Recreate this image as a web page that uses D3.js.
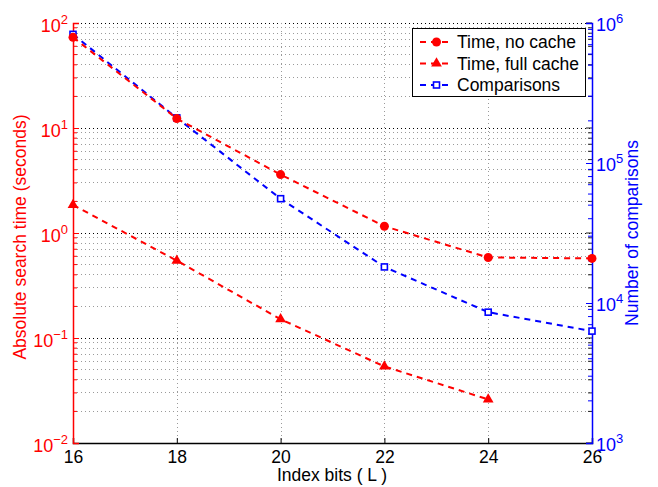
<!DOCTYPE html>
<html><head><meta charset="utf-8">
<script src="https://cdn.jsdelivr.net/npm/d3@7"></script>
<style>
html,body{margin:0;padding:0;background:#fff;}
svg{display:block;font-family:"Liberation Sans",Arial,sans-serif;}
</style></head><body>
<svg id="c" width="658" height="487"></svg>
<script>
const bits = [16, 18, 20, 22, 24, 26];
const timeNoCache = [73, 12.3, 3.6, 1.16, 0.585, 0.573];
const bitsFull = [16, 18, 20, 22, 24];
const timeFullCache = [1.85, 0.545, 0.151, 0.0536, 0.026];
const comparisons = [830000, 210000, 55600, 18100, 8600, 6300];
const xTicks = [16, 18, 20, 22, 24, 26];
const leftTicks = [1e-2, 1e-1, 1e0, 1e1, 1e2];
const rightTicks = [1e3, 1e4, 1e5, 1e6];
const legendLabels = ["Time, no cache", "Time, full cache", "Comparisons"];

const svg = d3.select("#c");
const L = 73, R = 592, T = 23, B = 443;
const FS = 17.5;
const x = d3.scaleLinear().domain([16, 26]).range([L, R]);
const yL = d3.scaleLog().domain([1e-2, 1e2]).range([B, T]);
const yR = d3.scaleLog().domain([1e3, 1e6]).range([B, T]);
const RED = "#ff0000", BLUE = "#0000ff";

function minorTicks(dom) {
  const out = [];
  for (let e = Math.log10(dom[0]); e < Math.log10(dom[1]); e++) {
    for (let m = 2; m <= 9; m++) out.push(m * Math.pow(10, e));
  }
  return out;
}
const lMinor = minorTicks([1e-2, 1e2]);
const rMinor = minorTicks([1e3, 1e6]);

const g = svg.append("g");
g.selectAll(".gm").data(lMinor).enter().append("line")
  .attr("x1", L).attr("x2", R).attr("y1", d => yL(d)).attr("y2", d => yL(d))
  .attr("stroke", "#9a9a9a").attr("stroke-width", 1).attr("stroke-dasharray", "1,3").attr("shape-rendering", "crispEdges");
g.selectAll(".gM").data(leftTicks).enter().append("line")
  .attr("x1", L).attr("x2", R).attr("y1", d => Math.round(yL(d)) + 0.5).attr("y2", d => Math.round(yL(d)) + 0.5)
  .attr("stroke", "#000").attr("stroke-width", 1).attr("stroke-dasharray", "1,3");
g.selectAll(".gv").data(xTicks.slice(1, -1)).enter().append("line")
  .attr("x1", d => Math.round(x(d)) + 0.5).attr("x2", d => Math.round(x(d)) + 0.5).attr("y1", T).attr("y2", B)
  .attr("stroke", "#9a9a9a").attr("stroke-width", 1).attr("stroke-dasharray", "1,3");

// x axis
const xAxis = d3.axisBottom(x).tickValues(xTicks).tickSize(-5).tickPadding(8).tickFormat(d3.format("d"));
const gx = svg.append("g").attr("transform", `translate(0,${B})`).call(xAxis);
gx.select(".domain").attr("stroke", "#000").attr("stroke-width", 1.5);
gx.selectAll(".tick line").attr("stroke", "#000");
gx.selectAll("text").attr("font-size", FS).attr("fill", "#000");

// left axis ticks
const lAxis = d3.axisLeft(yL).tickValues(leftTicks).tickSize(-6).tickFormat("");
const gl = svg.append("g").attr("transform", `translate(${L},0)`).call(lAxis);
gl.select(".domain").attr("stroke", RED).attr("stroke-width", 1.5);
gl.selectAll(".tick line").attr("stroke", RED);
gl.selectAll(".mt").data(lMinor).enter().append("line")
  .attr("x1", 0).attr("x2", 4).attr("y1", d => yL(d)).attr("y2", d => yL(d)).attr("stroke", RED);
svg.append("g").selectAll("line").data(leftTicks.concat(lMinor)).enter().append("line")
  .attr("x1", R).attr("x2", d => R - (leftTicks.includes(d) ? 6 : 4))
  .attr("y1", d => yL(d)).attr("y2", d => yL(d)).attr("stroke", "#222");

// right axis
const rAxis = d3.axisRight(yR).tickValues(rightTicks).tickSize(-6).tickFormat("");
const gr = svg.append("g").attr("transform", `translate(${R},0)`).call(rAxis);
gr.select(".domain").attr("stroke", BLUE).attr("stroke-width", 1.5);
gr.selectAll(".tick line").attr("stroke", BLUE);
gr.selectAll(".mt").data(rMinor).enter().append("line")
  .attr("x1", 0).attr("x2", -4).attr("y1", d => yR(d)).attr("y2", d => yR(d)).attr("stroke", BLUE);

function powLabel(sel, v, xpos, anchor, color) {
  const e = Math.round(Math.log10(v));
  const t = sel.append("text").attr("x", xpos).attr("text-anchor", anchor)
    .attr("fill", color).attr("font-size", 18);
  t.append("tspan").text("10");
  t.append("tspan").attr("dy", -8).attr("font-size", 13).text(e < 0 ? "\u2212" + (-e) : e);
  return t;
}
leftTicks.forEach(v => { powLabel(svg, v, 68, "end", RED).attr("y", yL(v) + 9); });
rightTicks.forEach(v => { powLabel(svg, v, 596, "start", BLUE).attr("y", yR(v) + 8); });

// axis titles
svg.append("text").attr("transform", `translate(26,237) rotate(-90)`)
  .attr("text-anchor", "middle").attr("fill", RED).attr("font-size", FS).text("Absolute search time (seconds)");
svg.append("text").attr("transform", `translate(638,233) rotate(-90)`)
  .attr("text-anchor", "middle").attr("fill", BLUE).attr("font-size", FS).text("Number of comparisons");
svg.append("text").attr("x", 332).attr("y", 481)
  .attr("text-anchor", "middle").attr("fill", "#000").attr("font-size", FS).text("Index bits ( L )");

// series
const lineR = d3.line().x(d => x(d[0])).y(d => yR(d[1]));
const lineL = d3.line().x(d => x(d[0])).y(d => yL(d[1]));
const compData = bits.map((b, i) => [b, comparisons[i]]);
const ncData = bits.map((b, i) => [b, timeNoCache[i]]);
const fcData = bitsFull.map((b, i) => [b, timeFullCache[i]]);

svg.append("path").datum(compData).attr("d", lineR).attr("fill", "none")
  .attr("stroke", BLUE).attr("stroke-width", 2).attr("stroke-dasharray", "6,5");
svg.selectAll(".sq").data(compData).enter().append("rect")
  .attr("x", d => x(d[0]) - 3).attr("y", d => yR(d[1]) - 3).attr("width", 6).attr("height", 6)
  .attr("fill", "#fff").attr("stroke", BLUE).attr("stroke-width", 1.6);

svg.append("path").datum(ncData).attr("d", lineL).attr("fill", "none")
  .attr("stroke", RED).attr("stroke-width", 2).attr("stroke-dasharray", "6,5");
svg.selectAll(".ci").data(ncData).enter().append("circle")
  .attr("cx", d => x(d[0])).attr("cy", d => yL(d[1])).attr("r", 4.5).attr("fill", RED);

svg.append("path").datum(fcData).attr("d", lineL).attr("fill", "none")
  .attr("stroke", RED).attr("stroke-width", 2).attr("stroke-dasharray", "6,5");
const tri = d3.symbol().type(d3.symbolTriangle).size(50);
svg.selectAll(".tr").data(fcData).enter().append("path")
  .attr("d", tri).attr("transform", d => `translate(${x(d[0])},${yL(d[1])})`).attr("fill", RED);

// legend
const lg = svg.append("g");
lg.append("rect").attr("x", 412.5).attr("y", 28.5).attr("width", 173).attr("height", 68)
  .attr("fill", "#fff").attr("stroke", "#000").attr("stroke-width", 1);
const ly = [42, 63.5, 85];
const lcol = [RED, RED, BLUE];
legendLabels.forEach((lab, i) => {
  lg.append("line").attr("x1", 420).attr("x2", 453).attr("y1", ly[i]).attr("y2", ly[i])
    .attr("stroke", lcol[i]).attr("stroke-width", 2).attr("stroke-dasharray", "6,5");
  if (i === 0) lg.append("circle").attr("cx", 436.5).attr("cy", ly[i]).attr("r", 4.5).attr("fill", RED);
  if (i === 1) lg.append("path").attr("d", tri).attr("transform", `translate(436.5,${ly[i]})`).attr("fill", RED);
  if (i === 2) lg.append("rect").attr("x", 433.5).attr("y", ly[i] - 3).attr("width", 6).attr("height", 6)
    .attr("fill", "#fff").attr("stroke", BLUE).attr("stroke-width", 1.6);
  lg.append("text").attr("x", 457).attr("y", ly[i] + 6).attr("font-size", FS).attr("fill", "#000").text(lab);
});
</script>
</body></html>
